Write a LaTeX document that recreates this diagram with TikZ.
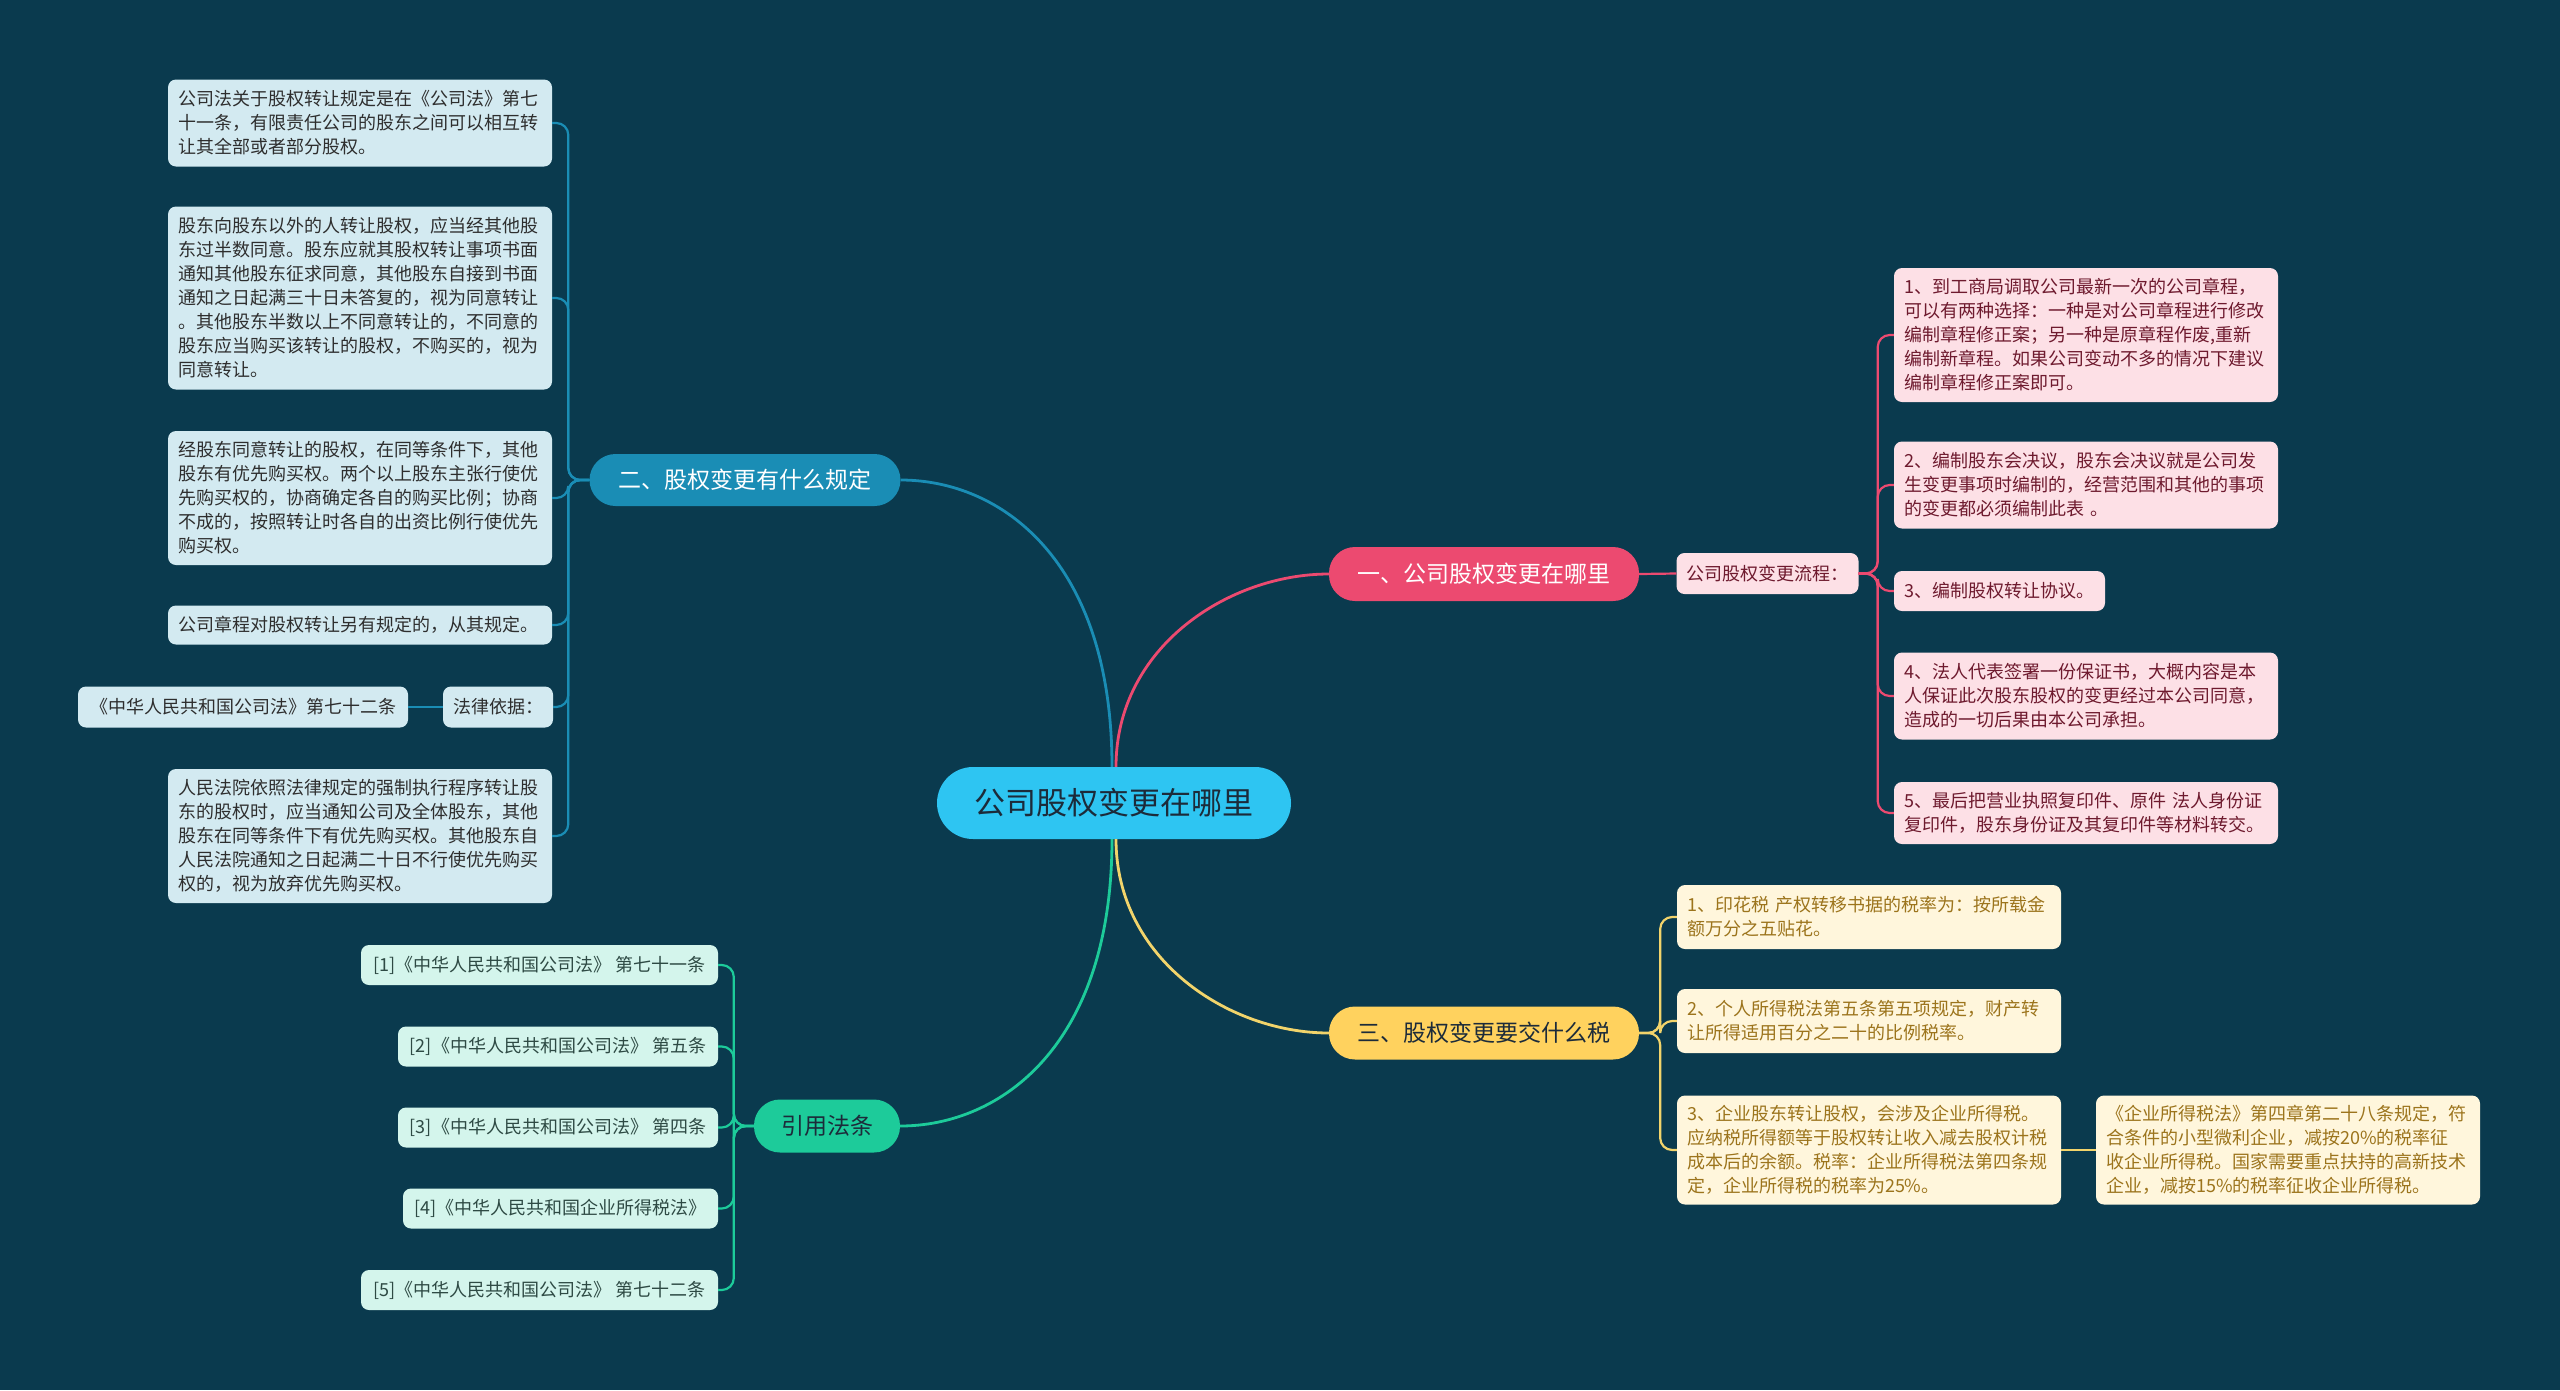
\documentclass[tikz,border=0pt]{standalone}
\usepackage{fontspec}
\setmainfont{Noto Sans CJK SC}
\definecolor{bg}{HTML}{0A3A4E}
\definecolor{rootfill}{HTML}{2EC5F2}
\definecolor{roottext}{HTML}{1C2B3A}
\definecolor{bluec}{HTML}{1A8DB5}
\definecolor{pinkc}{HTML}{EC4A70}
\definecolor{yellowc}{HTML}{FFD25E}
\definecolor{yellowline}{HTML}{F2D46B}
\definecolor{greenc}{HTML}{1DCB9A}
\definecolor{bleaffill}{HTML}{D3EAF1}
\definecolor{bleaftext}{HTML}{2E2E2E}
\definecolor{pleaffill}{HTML}{FDE0E6}
\definecolor{pleaftext}{HTML}{6E1A2E}
\definecolor{yleaffill}{HTML}{FFF6DC}
\definecolor{yleaftext}{HTML}{9C741C}
\definecolor{gleaffill}{HTML}{D4F5EC}
\definecolor{gleaftext}{HTML}{2E4A44}
\begin{document}
\begin{tikzpicture}[x=1pt,y=-1pt,
  leafbase/.style={rounded corners=8pt, inner xsep=10pt, inner ysep=0pt, align=left,
    font=\fontsize{18}{24}\selectfont},
  bleaf/.style={leafbase, fill=bleaffill, text=bleaftext},
  pleaf/.style={leafbase, fill=pleaffill, text=pleaftext},
  yleaf/.style={leafbase, fill=yleaffill, text=yleaftext},
  gleaf/.style={leafbase, align=center, fill=gleaffill, text=gleaftext},
  branchbox/.style={rounded corners=26pt, inner sep=0pt, font=\fontsize{23}{28}\selectfont},
  rootbox/.style={rounded corners=36pt, inner sep=0pt, fill=rootfill, text=roottext,
    font=\fontsize{31}{36}\selectfont, minimum width=354pt, minimum height=72pt},
  mainconn/.style={line width=2.8pt},
  leafconn/.style={line width=2.2pt, rounded corners=12pt},
]
\fill[bg] (0,0) rectangle (2560,1390);

% root and branches
\node[rootbox] (root) at (1114,803) {公司股权变更在哪里};
\node[branchbox, fill=bluec, text=white, minimum width=311pt, minimum height=52pt] (b2) at (745,480) {二、股权变更有什么规定};
\node[branchbox, fill=pinkc, text=white, minimum width=310pt, minimum height=54pt] (b1) at (1484,574) {一、公司股权变更在哪里};
\node[branchbox, fill=yellowc, text=roottext, minimum width=310pt, minimum height=53pt] (b3) at (1484,1033) {三、股权变更要交什么税};
\node[branchbox, fill=greenc, text=roottext, minimum width=146pt, minimum height=53pt] (b4) at (827,1126) {引用法条};

% blue leaves
\node[bleaf, text width=364pt, minimum height=87pt] (l1) at (360,123) {公司法关于股权转让规定是在《公司法》第七\\十一条，有限责任公司的股东之间可以相互转\\让其全部或者部分股权。};
\node[bleaf, text width=364pt, minimum height=183pt] (l2) at (360,298) {股东向股东以外的人转让股权，应当经其他股\\东过半数同意。股东应就其股权转让事项书面\\通知其他股东征求同意，其他股东自接到书面\\通知之日起满三十日未答复的，视为同意转让\\。其他股东半数以上不同意转让的，不同意的\\股东应当购买该转让的股权，不购买的，视为\\同意转让。};
\node[bleaf, text width=364pt, minimum height=134pt] (l3) at (360,498) {经股东同意转让的股权，在同等条件下，其他\\股东有优先购买权。两个以上股东主张行使优\\先购买权的，协商确定各自的购买比例；协商\\不成的，按照转让时各自的出资比例行使优先\\购买权。};
\node[bleaf, text width=364pt, minimum height=39pt] (l4) at (360,625) {公司章程对股权转让另有规定的，从其规定。};
\node[bleaf, minimum width=108pt, minimum height=41pt] (l5) at (498,707) {法律依据：};
\node[bleaf, minimum width=330pt, minimum height=41pt] (l5b) at (243,707) {《中华人民共和国公司法》第七十二条};
\node[bleaf, text width=364pt, minimum height=134pt] (l6) at (360,836) {人民法院依照法律规定的强制执行程序转让股\\东的股权时，应当通知公司及全体股东，其他\\股东在同等条件下有优先购买权。其他股东自\\人民法院通知之日起满二十日不行使优先购买\\权的，视为放弃优先购买权。};

% pink leaves
\node[pleaf, minimum width=181pt, minimum height=41pt] (p0) at (1767.5,573.5) {公司股权变更流程：};
\node[pleaf, text width=364pt, minimum height=134pt] (p1) at (2086,335) {1、到工商局调取公司最新一次的公司章程，\\可以有两种选择：一种是对公司章程进行修改\\编制章程修正案；另一种是原章程作废,重新\\编制新章程。如果公司变动不多的情况下建议\\编制章程修正案即可。};
\node[pleaf, text width=364pt, minimum height=87pt] (p2) at (2086,485) {2、编制股东会决议，股东会决议就是公司发\\生变更事项时编制的，经营范围和其他的事项\\的变更都必须编制此表 。};
\node[pleaf, minimum width=211pt, minimum height=40pt] (p3) at (1999.5,591) {3、编制股权转让协议。};
\node[pleaf, text width=364pt, minimum height=87pt] (p4) at (2086,696) {4、法人代表签署一份保证书，大概内容是本\\人保证此次股东股权的变更经过本公司同意，\\造成的一切后果由本公司承担。};
\node[pleaf, text width=364pt, minimum height=62pt] (p5) at (2086,813) {5、最后把营业执照复印件、原件 法人身份证\\复印件，股东身份证及其复印件等材料转交。};

% yellow leaves
\node[yleaf, text width=364pt, minimum height=64pt] (y1) at (1869,917) {1、印花税 产权转移书据的税率为：按所载金\\额万分之五贴花。};
\node[yleaf, text width=364pt, minimum height=64pt] (y2) at (1869,1021) {2、个人所得税法第五条第五项规定，财产转\\让所得适用百分之二十的比例税率。};
\node[yleaf, text width=364pt, minimum height=109pt] (y3) at (1869,1150) {3、企业股东转让股权，会涉及企业所得税。\\应纳税所得额等于股权转让收入减去股权计税\\成本后的余额。税率：企业所得税法第四条规\\定，企业所得税的税率为25\%。};
\node[yleaf, text width=364pt, minimum height=109pt] (y4) at (2288,1150) {《企业所得税法》第四章第二十八条规定，符\\合条件的小型微利企业，减按20\%的税率征\\收企业所得税。国家需要重点扶持的高新技术\\企业，减按15\%的税率征收企业所得税。};

% green leaves
\node[gleaf, minimum width=357pt, minimum height=40pt] (g1) at (539.5,965) {[1]《中华人民共和国公司法》 第七十一条};
\node[gleaf, minimum width=320pt, minimum height=40pt] (g2) at (558,1046.5) {[2]《中华人民共和国公司法》 第五条};
\node[gleaf, minimum width=320pt, minimum height=40pt] (g3) at (558,1127.5) {[3]《中华人民共和国公司法》 第四条};
\node[gleaf, minimum width=315pt, minimum height=40pt] (g4) at (560.5,1208.5) {[4]《中华人民共和国企业所得税法》};
\node[gleaf, minimum width=357pt, minimum height=40pt] (g5) at (539.5,1290) {[5]《中华人民共和国公司法》 第七十二条};

% main connectors
\draw[mainconn, bluec] ([xshift=-2pt]root.north) to[out=90,in=0,out distance=207pt,in distance=100pt] (b2.east);
\draw[mainconn, pinkc] ([xshift=2pt]root.north) to[out=90,in=180,out distance=120pt,in distance=100pt] (b1.west);
\draw[mainconn, yellowline] ([xshift=2pt]root.south) to[out=-90,in=180,out distance=120pt,in distance=100pt] (b3.west);
\draw[mainconn, greenc] ([xshift=-2pt]root.south) to[out=-90,in=0,out distance=207pt,in distance=100pt] (b4.east);

% blue leaf connectors
\foreach \n in {l1,l2,l3,l4,l5,l6}
  \draw[leafconn, bluec] (b2.west) -- ++(-21,0) |- (\n.east);
\draw[leafconn, bluec] (l5.west) -- (l5b.east);

% pink
\draw[leafconn, pinkc] (b1.east) -- (p0.west);
\foreach \n in {p1,p2,p3,p4,p5}
  \draw[leafconn, pinkc] (p0.east) -- ++(19,0) |- (\n.west);

% yellow
\foreach \n in {y1,y2,y3}
  \draw[leafconn, yellowline] (b3.east) -- ++(21,0) |- (\n.west);
\draw[leafconn, yellowline] (y3.east) -- (y4.west);

% green
\foreach \n in {g1,g2,g3,g4,g5}
  \draw[leafconn, greenc] (b4.west) -- ++(-20,0) |- (\n.east);
\end{tikzpicture}
\end{document}
